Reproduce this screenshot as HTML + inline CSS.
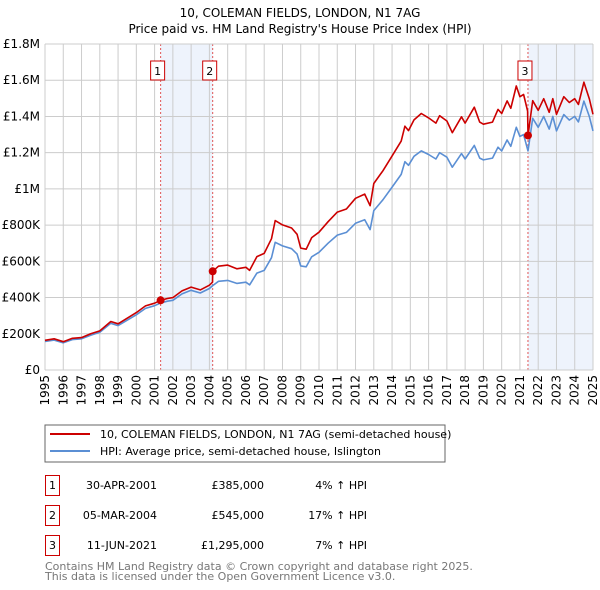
<!DOCTYPE html>
<html><head><meta charset="utf-8"><style>
html,body{margin:0;padding:0;background:#fff;}
svg{display:block;font-family:"DejaVu Sans","Liberation Sans",sans-serif;}
</style></head><body>
<svg id="chart" width="600" height="590" viewBox="0 0 600 590" xmlns="http://www.w3.org/2000/svg">
<text x="300" y="17" text-anchor="middle" font-size="12" fill="#000">10, COLEMAN FIELDS, LONDON, N1 7AG</text>
<text x="300" y="33" text-anchor="middle" font-size="12" fill="#000">Price paid vs. HM Land Registry's House Price Index (HPI)</text>
<g id="bands"></g><g id="grid"></g><g id="axes"></g><g id="series"></g><g id="markers"></g>
<rect x="45" y="425" width="400" height="37" fill="#fff" stroke="#666" stroke-width="1"/>
<line x1="50" y1="434" x2="90" y2="434" stroke="#cc0000" stroke-width="2"/>
<text x="100" y="438" font-size="11">10, COLEMAN FIELDS, LONDON, N1 7AG (semi-detached house)</text>
<line x1="50" y1="451" x2="90" y2="451" stroke="#5b8fd4" stroke-width="2"/>
<text x="100" y="455" font-size="11">HPI: Average price, semi-detached house, Islington</text>
<g font-size="11">
<rect x="45.5" y="475.5" width="14" height="20" fill="#fff" stroke="#cc0000"/>
<text x="52.5" y="489" text-anchor="middle">1</text>
<text x="157" y="489" text-anchor="end">30-APR-2001</text>
<text x="264" y="489" text-anchor="end">£385,000</text>
<text x="367" y="489" text-anchor="end">4% ↑ HPI</text>
<rect x="45.5" y="505.5" width="14" height="20" fill="#fff" stroke="#cc0000"/>
<text x="52.5" y="519" text-anchor="middle">2</text>
<text x="157" y="519" text-anchor="end">05-MAR-2004</text>
<text x="264" y="519" text-anchor="end">£545,000</text>
<text x="367" y="519" text-anchor="end">17% ↑ HPI</text>
<rect x="45.5" y="535.5" width="14" height="20" fill="#fff" stroke="#cc0000"/>
<text x="52.5" y="549" text-anchor="middle">3</text>
<text x="157" y="549" text-anchor="end">11-JUN-2021</text>
<text x="264" y="549" text-anchor="end">£1,295,000</text>
<text x="367" y="549" text-anchor="end">7% ↑ HPI</text>
</g>
<text x="45" y="570" font-size="11" fill="#777">Contains HM Land Registry data © Crown copyright and database right 2025.</text>
<text x="45" y="580" font-size="11" fill="#777">This data is licensed under the Open Government Licence v3.0.</text>
</svg>
<script>
const yTicks=[0,200000,400000,600000,800000,1000000,1200000,1400000,1600000,1800000];
const yTickLabels=["£0","£200K","£400K","£600K","£800K","£1M","£1.2M","£1.4M","£1.6M","£1.8M"];
const xTicks=[1995,1996,1997,1998,1999,2000,2001,2002,2003,2004,2005,2006,2007,2008,2009,2010,2011,2012,2013,2014,2015,2016,2017,2018,2019,2020,2021,2022,2023,2024,2025];
const hpiYears=[1995,1995.5,1996,1996.5,1997,1997.5,1998,1998.6,1999,1999.5,2000,2000.5,2001,2001.33,2001.7,2002,2002.5,2003,2003.5,2004,2004.18,2004.5,2005,2005.5,2006,2006.2,2006.6,2007,2007.4,2007.6,2008,2008.5,2008.8,2009,2009.3,2009.6,2010,2010.5,2011,2011.5,2012,2012.5,2012.8,2013,2013.5,2014,2014.5,2014.7,2014.9,2015.2,2015.6,2016,2016.4,2016.6,2017,2017.3,2017.8,2018,2018.5,2018.8,2019,2019.5,2019.8,2020,2020.3,2020.5,2020.8,2021,2021.2,2021.44,2021.7,2022,2022.3,2022.6,2022.8,2023,2023.4,2023.7,2024,2024.2,2024.5,2024.8,2025];
const hpiValues=[158,165,150,168,172,192,208,258,245,275,305,340,355,370,380,385,420,440,425,450,466,490,495,478,485,470,535,550,620,705,685,670,640,575,570,625,650,700,745,760,810,830,775,880,940,1010,1080,1150,1130,1180,1210,1190,1165,1200,1175,1120,1195,1165,1240,1170,1160,1170,1230,1210,1270,1235,1340,1290,1300,1210,1390,1340,1400,1330,1400,1320,1410,1380,1400,1370,1485,1400,1320];
const priceYears=[1995,1995.5,1996,1996.5,1997,1997.5,1998,1998.6,1999,1999.5,2000,2000.5,2001,2001.33,2001.7,2002,2002.5,2003,2003.5,2004,2004.17,2004.18,2004.5,2005,2005.5,2006,2006.2,2006.6,2007,2007.4,2007.6,2008,2008.5,2008.8,2009,2009.3,2009.6,2010,2010.5,2011,2011.5,2012,2012.5,2012.8,2013,2013.5,2014,2014.5,2014.7,2014.9,2015.2,2015.6,2016,2016.4,2016.6,2017,2017.3,2017.8,2018,2018.5,2018.8,2019,2019.5,2019.8,2020,2020.3,2020.5,2020.8,2021,2021.2,2021.42,2021.44,2021.7,2022,2022.3,2022.6,2022.8,2023,2023.4,2023.7,2024,2024.2,2024.5,2024.8,2025];
const priceValues=[164,172,156,175,179,200,216,268,255,286,317,354,369,385,395,400,437,458,442,468,485,545,573,579,559,567,550,626,644,725,825,801,784,749,673,667,731,761,819,872,889,948,971,907,1030,1100,1182,1264,1346,1322,1381,1416,1392,1363,1404,1375,1310,1398,1363,1451,1369,1357,1369,1439,1416,1486,1445,1568,1509,1521,1430,1295,1487,1434,1498,1423,1498,1412,1509,1477,1498,1466,1589,1498,1412];
const saleYears=[2001.33,2004.18,2021.44];
const salePrices=[385000,545000,1295000];
const saleLabels=["1","2","3"];

const NS="http://www.w3.org/2000/svg";
const X0=45,X1=593,Y0=370,Y1=44;
function xs(y){return X0+(y-1995)/30*(X1-X0);}
function ys(v){return Y0-v/1800000*(Y0-Y1);}
function mk(tag,attrs,parent){const e=document.createElementNS(NS,tag);for(const k in attrs)e.setAttribute(k,attrs[k]);parent.appendChild(e);return e;}
const bands=document.getElementById('bands'),grid=document.getElementById('grid'),axes=document.getElementById('axes'),series=document.getElementById('series'),markers=document.getElementById('markers');
const bandRanges=[[saleYears[0],saleYears[1]],[saleYears[2],2025]];
bandRanges.forEach((b,i)=>{const r=mk('rect',{x:xs(b[0]),y:Y1,width:xs(b[1])-xs(b[0]),height:Y0-Y1,fill:'#eef3fc'},bands);

});
yTicks.forEach((v,i)=>{const l=mk('line',{x1:X0,x2:X1,y1:ys(v),y2:ys(v),stroke:'#cccccc','stroke-width':1},grid);


const t=mk('text',{x:X0-5,y:ys(v)+4,'text-anchor':'end','font-size':12,fill:'#000'},axes);t.textContent=yTickLabels[i];

});
xTicks.forEach(y=>{const l=mk('line',{x1:xs(y),x2:xs(y),y1:Y1,y2:Y0,stroke:'#cccccc','stroke-width':1},grid);


const t=mk('text',{x:0,y:0,'text-anchor':'end','font-size':12,fill:'#000',transform:`translate(${xs(y)+4},${Y0+5}) rotate(-90)`},axes);t.textContent=y;

});
saleYears.forEach((y,i)=>{const l=mk('line',{x1:xs(y),x2:xs(y),y1:Y1,y2:Y0,stroke:'#e05555','stroke-width':1,'stroke-dasharray':'2,2'},bands);

});
function path(xa,va,color,name){let d='';xa.forEach((y,i)=>{d+=(i?'L':'M')+xs(y).toFixed(1)+','+ys(va[i]*1000).toFixed(1);});
const p=mk('path',{d:d,fill:'none',stroke:color,'stroke-width':1.6,'stroke-linejoin':'round'},series);

}
path(hpiYears,hpiValues,'#5b8fd4','hpi-line');
path(priceYears,priceValues,'#cc0000','price-line');
saleYears.forEach((y,i)=>{const c=mk('circle',{cx:xs(y),cy:ys(salePrices[i]),r:4,fill:'#cc0000'},markers);


const bx=xs(y)-3;
const r=mk('rect',{x:bx-7,y:61,width:14,height:19,fill:'#fff',stroke:'#cc0000'},markers);


const t=mk('text',{x:bx,y:75,'text-anchor':'middle','font-size':11},markers);t.textContent=saleLabels[i];

});
</script>
</body></html>
